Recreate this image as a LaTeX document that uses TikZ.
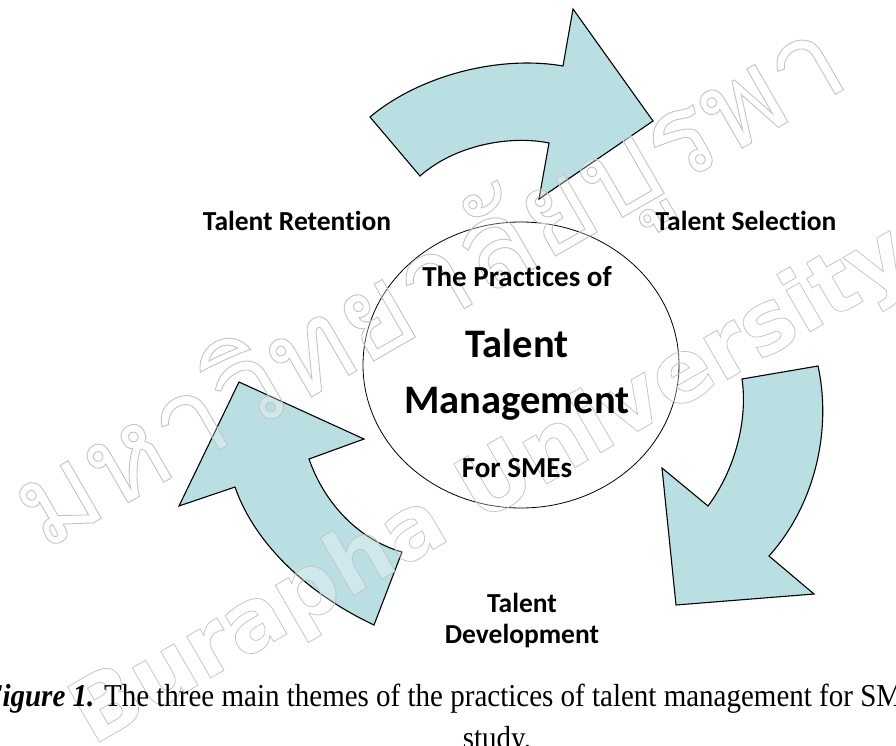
\documentclass[tikz,border=0pt]{standalone}
\usepackage{fontspec}
\usepackage{graphicx}
\setmainfont{Liberation Serif}
\newfontfamily\calfont[Ligatures=NoCommon]{Carlito}
\newfontfamily\wmfont{DejaVu Sans}
\newfontfamily\thaifont[Script=Thai]{Loma}
\newcommand\outlinetext[1]{\special{pdf:literal direct 0.75 w 1 Tr}#1\special{pdf:literal direct 0 Tr}}
\newcommand\wmlatin{\wmfont\bfseries\fontsize{87}{90}\selectfont}
\newcommand\wmthai{\thaifont\fontsize{100}{110}\selectfont}
\usetikzlibrary{shapes.geometric}
\definecolor{arrowfill}{RGB}{186,223,227}
\definecolor{wmgray}{RGB}{196,196,196}
\tikzset{
  bigarrow/.style={draw=black, line width=1.1pt, fill=arrowfill, line join=miter},
  lbl/.style={font=\calfont\bfseries\fontsize{27.5}{30}\selectfont, inner sep=0pt, anchor=base},
  inlbl/.style={font=\calfont\bfseries\fontsize{29}{32}\selectfont, inner sep=0pt, anchor=base},
  biglbl/.style={font=\calfont\bfseries\fontsize{40.5}{44}\selectfont, inner sep=0pt, anchor=base},
  captxt/.style={font=\fontsize{29}{34}\selectfont, inner sep=0pt},
  wmark/.style={inner sep=0pt, rotate=30, text=wmgray},
  wmfill/.style={inner sep=0pt, rotate=30, text=white, text opacity=0.3}
}
\begin{document}
\begin{tikzpicture}[x=1pt,y=-1pt]
\clip (0,0) rectangle (896,746);
\fill[white] (0,0) rectangle (896,746);
% top arrow (Retention -> Selection)
\draw[bigarrow] (370,117) .. controls (420,75) and (500,55) .. (563,66)
  -- (573,9) -- (653,121) -- (539,199) -- (549,143)
  .. controls (510,135) and (455,145) .. (420,176) -- cycle;
% right arrow (Selection -> Development)
\draw[bigarrow] (742,379) -- (818,366)
  .. controls (832,430) and (815,505) .. (769,556)
  -- (814,594) -- (676,605) -- (662,468) -- (708,506)
  .. controls (735,470) and (748,420) .. (742,379) -- cycle;
% left arrow (Development -> Retention)
\draw[bigarrow] (374,625) .. controls (310,595) and (255,545) .. (235,487)
  -- (179,506) -- (239,382) -- (364,439) -- (309,459)
  .. controls (325,505) and (360,540) .. (402,552) -- cycle;
% centre
\node[draw, ellipse, line width=0.8pt, minimum width=316pt, minimum height=286pt, inner sep=0pt] (core) at (521,365) {};
% watermark
\node[wmfill] (wm1f) at (492,488) {\resizebox{950pt}{!}{\wmlatin Burapha University}};
\node[wmfill] (wm2f) at (432,290) {\resizebox{935pt}{!}{\wmthai มหาวิทยาลัยบูรพา}};
\node[wmark] (wm1) at (492,488) {\resizebox{950pt}{!}{\wmlatin\outlinetext{Burapha University}}};
\node[wmark] (wm2) at (432,290) {\resizebox{935pt}{!}{\wmthai\outlinetext{มหาวิทยาลัยบูรพา}}};
% texts in the circle
\node[inlbl] (pr) at (517,286) {The Practices of};
\node[biglbl] (tal) at (517,357) {Talent};
\node[biglbl] (man) at (517,413) {Management};
\node[inlbl] (sme) at (517,477) {For SMEs};
% labels
\node[lbl] (ret) at (297,230) {Talent Retention};
\node[lbl] (sel) at (746,230) {Talent Selection};
\node[lbl] (dev1) at (522,612) {Talent};
\node[lbl] (dev2) at (522,643) {Development};
% caption
\node[captxt, anchor=base west] (cap1) at (-17,706) {\scalebox{1}[1.1]{\textbf{\textit{Figure 1.}} The three main themes of the practices of talent management for SMEs in this}};
\node[captxt, anchor=base] (cap2) at (497,748) {\scalebox{1}[1.1]{study.}};
\end{tikzpicture}
\end{document}
